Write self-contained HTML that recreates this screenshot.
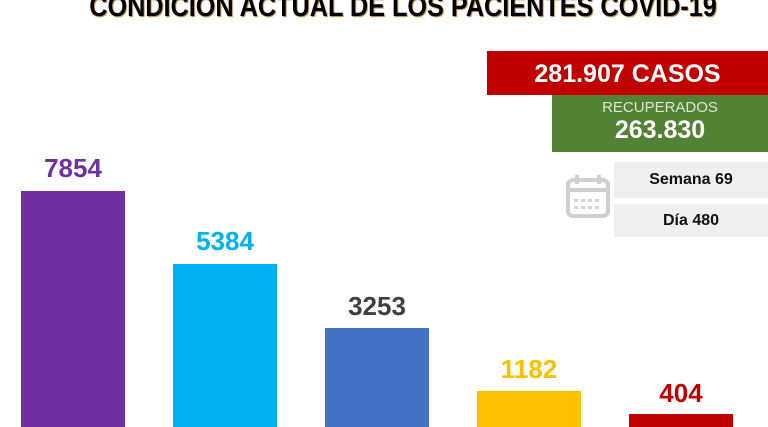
<!DOCTYPE html>
<html><head><meta charset="utf-8"><style>
body{margin:0;width:768px;height:427px;overflow:hidden;background:#fff;position:relative;font-family:"Liberation Sans",sans-serif;}
.a{position:absolute}
.t{position:absolute;left:403px;top:-9px;font-weight:bold;font-size:29px;color:#000;transform:translateX(-50%) scaleX(0.87);transform-origin:50% 0;white-space:nowrap;text-shadow:1px 1px 1px #b08040}
.bar{position:absolute;width:104px;bottom:0}
.lbl{position:absolute;width:104px;text-align:center;font-weight:bold;font-size:26px}
.box{position:absolute;text-align:center;font-weight:bold}
</style></head><body>
<div class="t">CONDICION ACTUAL DE LOS PACIENTES COVID-19</div>
<div class="box" style="left:487px;top:51px;width:281px;height:44px;background:#c00000;color:#fff;font-size:25px;line-height:46px">281.907 CASOS</div>
<div class="box" style="left:552px;top:95px;width:216px;height:57px;background:#548235;color:#fff">
<div style="font-weight:normal;font-size:15px;color:#d8e8cc;margin-top:4px">RECUPERADOS</div>
<div style="font-size:25px;margin-top:0px">263.830</div></div>
<div class="box" style="left:614px;top:162px;width:154px;height:36px;background:#efefef;font-size:16px;line-height:36px;color:#111">Semana 69</div>
<div class="box" style="left:614px;top:204px;width:154px;height:33px;background:#efefef;font-size:16px;line-height:33px;color:#111">Día 480</div>
<svg class="a" style="left:565px;top:174px" width="46" height="46" viewBox="0 0 46 46">
<rect x="3" y="6" width="40" height="36" rx="5" fill="none" stroke="#cfcfcf" stroke-width="4"/>
<line x1="3" y1="16" x2="43" y2="16" stroke="#cfcfcf" stroke-width="4"/>
<line x1="12" y1="1" x2="12" y2="10" stroke="#cfcfcf" stroke-width="4"/>
<line x1="34" y1="1" x2="34" y2="10" stroke="#cfcfcf" stroke-width="4"/>
<g fill="#d5d5d5"><rect x="9" y="25" width="4" height="3"/><rect x="16" y="25" width="4" height="3"/><rect x="23" y="25" width="4" height="3"/><rect x="30" y="25" width="4" height="3"/><rect x="9" y="32" width="4" height="3"/><rect x="16" y="32" width="4" height="3"/><rect x="23" y="32" width="4" height="3"/><rect x="30" y="32" width="4" height="3"/></g>
</svg>
<div class="bar" style="left:21px;top:191px;background:#7030a0"></div>
<div class="bar" style="left:173px;top:264px;background:#00b0f0"></div>
<div class="bar" style="left:325px;top:328px;background:#4472c4"></div>
<div class="bar" style="left:477px;top:391px;background:#ffc000"></div>
<div class="bar" style="left:629px;top:414px;background:#c00000"></div>
<div class="lbl" style="left:21px;top:153px;color:#7030a0">7854</div>
<div class="lbl" style="left:173px;top:226px;color:#00b0f0">5384</div>
<div class="lbl" style="left:325px;top:291px;color:#404040">3253</div>
<div class="lbl" style="left:477px;top:354px;color:#ffc000">1182</div>
<div class="lbl" style="left:629px;top:378px;color:#c00000">404</div>
</body></html>
